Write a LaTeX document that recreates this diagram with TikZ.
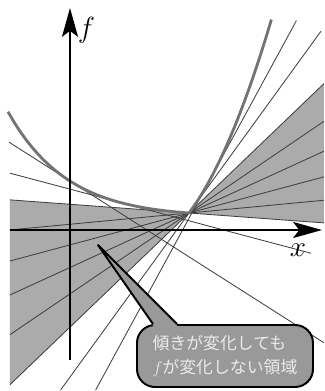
\documentclass[tikz,border=0pt]{standalone}
\usepackage{fontspec}
\newfontfamily\jpfont{Noto Sans CJK JP}
\usetikzlibrary{arrows.meta, calc}

\begin{document}
\begin{tikzpicture}[
  axisarrow/.style={line width=1.4pt, -{Stealth[length=7.2mm, width=4mm, inset=1.5mm]}},
  fan/.style={fill=black!33},
  rayline/.style={line width=0.6pt, draw=black!75},
  fcurve/.style={line width=2pt, draw=black!55, line join=round},
  note/.style={draw, line width=1.4pt, fill=black!40, rounded corners=0.45cm,
    minimum width=4.4cm, minimum height=1.55cm, inner sep=1mm, align=left,
    text=black!8, font=\jpfont\fontsize{12}{17.5}\selectfont},
  lbl/.style={font=\huge}
]
\useasboundingbox (-1.75,-4.025) rectangle (6.35,5.75);
\coordinate (P) at (2.975,0.425);

% shaded fan and the lines through P
\begin{scope}
  \clip (-1.5,-4.025) rectangle (6.35,5.75);
  \fill[fan] (P) -- ($(P)+(-4.2:8)$) -- ($(P)+(43.8:8)$) -- cycle;
  \fill[fan] (P) -- ($(P)+(175.8:8)$) -- ($(P)+(223.8:8)$) -- cycle;
  \foreach \k in {0,...,5}
    \draw[rayline] ($(P)+({-4.2+9.6*\k}:8)$) -- ($(P)+({175.8+9.6*\k}:8)$);
\end{scope}

% tangent lines
\draw[rayline] (-1.525,2.196) -- (6.35,-2.82);
\draw[rayline] (-1.5,1.42) -- (6.025,-0.581);
\draw[rayline] (0.642,-4.0) -- (5.66,5.234);
\draw[rayline] (-0.235,-4.0) -- (6.275,4.97);

% the function
\draw[fcurve] plot[domain=-1.55:2.975, samples=60]
    (\x,{0.425+0.073*(2.975-\x)+0.1429*(exp(0.655*(2.975-\x))-1-0.655*(2.975-\x))})
  -- plot[domain=2.975:5.035, samples=30]
    (\x,{0.425+1.33*(\x-2.975)+0.494*(\x-2.975)*(\x-2.975)});

% axes
\draw[axisarrow] (-1.5,0) -- (6.3,0);
\draw[axisarrow] (0,-3.25) -- (0,5.55);
\node[lbl] (flab) at (0.41,5.0) {$f$};
\node[lbl] (xlab) at (5.7,-0.5) {$x$};

% callout
\coordinate (tip) at (0.7,-0.375);
\node[note] (note) at (3.875,-3.15) {傾きが変化しても\\$f$が変化しない領域};
\fill[black!40] (tip) -- ($(note.north)+(-1.8,0)$) -- ($(note.north)+(-1.8,-0.06)$)
  -- ($(note.north)+(-1.2,-0.06)$) -- ($(note.north)+(-1.2,0)$) -- cycle;
\draw[line width=1.4pt, line join=round] ($(note.north)+(-1.8,0)$) -- (tip) -- ($(note.north)+(-1.2,0)$);

\end{tikzpicture}
\end{document}
